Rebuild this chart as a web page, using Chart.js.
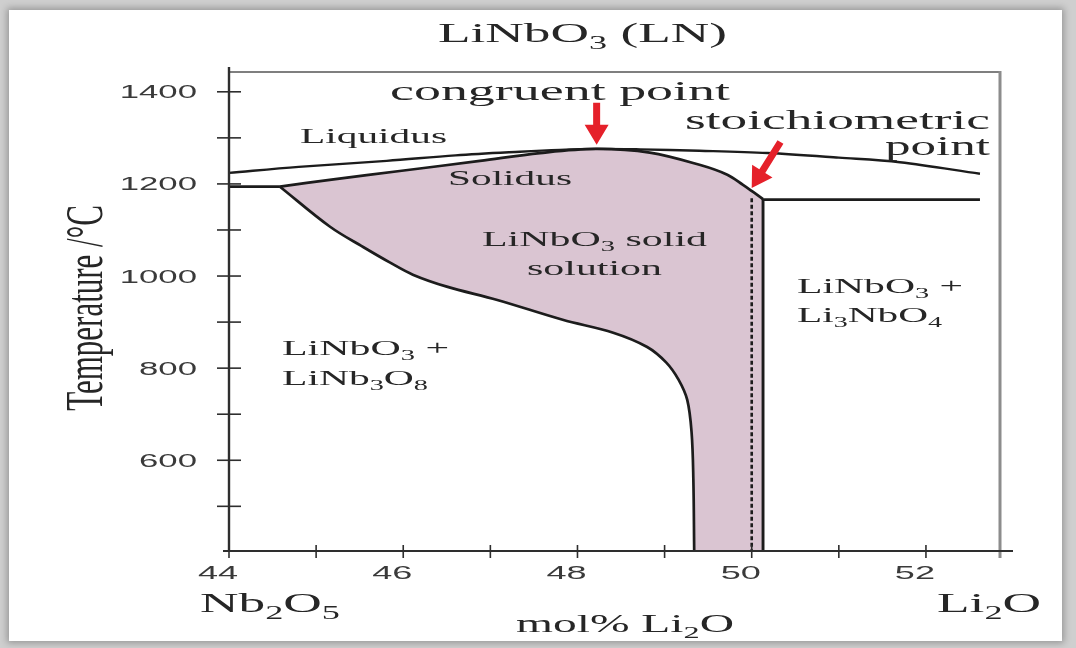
<!DOCTYPE html>
<html><head><meta charset="utf-8">
<script src="https://cdn.jsdelivr.net/npm/chart.js@4.4.1/dist/chart.umd.min.js"></script>
<style>
html,body{margin:0;padding:0;width:1076px;height:648px;overflow:hidden;background:#cfcfcf;}
#card{position:absolute;left:9px;top:10px;width:1053px;height:631px;background:#fff;box-shadow:0 0 7px 2px rgba(0,0,0,0.28);}
#wrap{position:absolute;left:0;top:0;width:1076px;height:648px;}
</style></head>
<body>
<div id="card"></div>
<div id="wrap"><canvas id="c" width="1076" height="648"></canvas></div>
<script>
// ---------- data (mol% Li2O, temperature °C) ----------
const liquidusX = [44.00, 44.80, 45.81, 46.60, 47.34, 47.80, 48.22, 48.72, 49.40, 50.18, 51.00, 51.70, 52.62];
const liquidusT = [1224, 1237, 1250, 1262, 1270, 1274, 1276, 1275, 1272, 1267, 1257, 1247, 1222];

const solidusX = [44.585, 45.20, 45.96, 46.88, 47.57, 48.21, 48.83, 49.41, 49.72, 49.90, 50.02, 50.13];
const solidusT = [1194, 1210, 1228, 1250, 1267, 1276, 1268, 1241, 1220, 1198, 1182, 1167];

const solvusX = [44.585, 45.16, 45.54, 45.85, 46.11, 46.50, 47.08, 47.83, 48.41, 48.80, 49.02, 49.16, 49.26, 49.31, 49.33, 49.34];
const solvusT = [1194, 1107, 1063, 1029, 1003, 977, 948, 905, 877, 846, 812, 775, 731, 660, 560, 400];

const eutecticX = [44.00, 44.585];
const eutecticT = [1194, 1194];
const rightLineX = [50.13, 52.62];
const rightLineT = [1166, 1166];
const stoichBoundX = [50.13, 50.13];
const stoichBoundT = [1167, 400];
const dashedX = [50.00, 50.00];
const dashedT = [1169, 400];

const arrowFromX = [48.22, 50.33];
const arrowFromT = [1376, 1291];
const arrowToX = [48.22, 50.00];
const arrowToT = [1285, 1191];

const xMin = 44, xMax = 52.85, yMin = 403, yMax = 1443;
const xTickLabels = [44, 46, 48, 50, 52];
const xMinorTicks = [45, 47, 49, 51];
const yTickLabels = [600, 800, 1000, 1200, 1400];
const yMinorTicks = [500, 700, 900, 1100, 1300];

// ---------- helpers ----------
const pts = (xs, ys) => xs.map((x, i) => ({x: x, y: ys[i]}));
const SERIF = "'Liberation Serif','Times New Roman',serif";
const SANS = "'Liberation Sans',Arial,sans-serif";

// polygon of the solid-solution field: solidus, down stoichiometric boundary, back up the solvus
const polyX = [], polyT = [];
solidusX.forEach((x, i) => { polyX.push(x); polyT.push(solidusT[i]); });
polyX.push(solidusX[solidusX.length - 1]); polyT.push(solidusT[solidusT.length - 1]);
polyX.push(stoichBoundX[1], stoichBoundX[1]); polyT.push(stoichBoundT[1], stoichBoundT[1]);
polyX.push(solvusX[solvusX.length - 1], solvusX[solvusX.length - 1]); polyT.push(solvusT[solvusT.length - 1], solvusT[solvusT.length - 1]);
for (let i = solvusX.length - 2; i >= 0; i--) { polyX.push(solvusX[i]); polyT.push(solvusT[i]); }

function parseRich(str) {
  const runs = []; let cur = '';
  for (let i = 0; i < str.length; i++) {
    if (str[i] === '_') { if (cur) runs.push({t: cur, sub: false}); cur = ''; runs.push({t: str[i + 1], sub: true}); i++; }
    else cur += str[i];
  }
  if (cur) runs.push({t: cur, sub: false});
  return runs;
}
function drawRich(ctx, str, o) {
  const runs = parseRich(str);
  let w = 0;
  for (const r of runs) { ctx.font = `${r.sub ? o.size * 0.68 : o.size}px ${o.family}`; w += ctx.measureText(r.t).width; }
  let sx = o.sx || 1;
  if (o.width) sx = o.width / w;
  let x0 = o.x;
  if (o.align === 'center') x0 = o.x - w * sx / 2;
  else if (o.align === 'right') x0 = o.x - w * sx;
  ctx.save();
  ctx.translate(x0, o.baseline); ctx.scale(sx, 1);
  ctx.fillStyle = o.color || '#262626'; ctx.textBaseline = 'alphabetic'; ctx.textAlign = 'left';
  let x = 0;
  for (const r of runs) {
    const s = r.sub ? o.size * 0.68 : o.size;
    ctx.font = `${s}px ${o.family}`;
    ctx.fillText(r.t, x, r.sub ? o.size * 0.24 : 0);
    x += ctx.measureText(r.t).width;
  }
  ctx.restore();
}

const decor = {
  id: 'decor',
  afterDatasetsDraw(chart) {
    const ctx = chart.ctx, xs = chart.scales.x, ys = chart.scales.y;
    const L = xs.left, R = xs.right, T = ys.top, B = ys.bottom;
    ctx.save();
    // red arrows
    ctx.fillStyle = '#e5202a';
    for (let i = 0; i < arrowFromX.length; i++) {
      const x1 = xs.getPixelForValue(arrowFromX[i]), y1 = ys.getPixelForValue(arrowFromT[i]);
      const x2 = xs.getPixelForValue(arrowToX[i]), y2 = ys.getPixelForValue(arrowToT[i]);
      const len = Math.hypot(x2 - x1, y2 - y1), ux = (x2 - x1) / len, uy = (y2 - y1) / len;
      const px = -uy, py = ux, head = 20, hw = 12, sw = 3.5;
      const bx = x2 - ux * head, by = y2 - uy * head;
      ctx.beginPath();
      ctx.moveTo(x1 + px * sw, y1 + py * sw);
      ctx.lineTo(bx + px * sw, by + py * sw);
      ctx.lineTo(bx + px * hw, by + py * hw);
      ctx.lineTo(x2, y2);
      ctx.lineTo(bx - px * hw, by - py * hw);
      ctx.lineTo(bx - px * sw, by - py * sw);
      ctx.lineTo(x1 - px * sw, y1 - py * sw);
      ctx.closePath(); ctx.fill();
    }
    // frame
    ctx.strokeStyle = '#555'; ctx.lineWidth = 1.6;
    ctx.beginPath(); ctx.moveTo(L, T); ctx.lineTo(R, T); ctx.stroke();
    ctx.strokeStyle = '#8c8c8c'; ctx.lineWidth = 3;
    ctx.beginPath(); ctx.moveTo(R, T - 1); ctx.lineTo(R, B + 7); ctx.stroke();
    // axes
    ctx.strokeStyle = '#2e2e2e'; ctx.lineWidth = 2.4;
    ctx.beginPath(); ctx.moveTo(L, T - 5); ctx.lineTo(L, B); ctx.stroke();
    ctx.lineWidth = 2;
    ctx.beginPath(); ctx.moveTo(L - 6, B); ctx.lineTo(R + 13, B); ctx.stroke();
    ctx.lineWidth = 1.6;
    [...yTickLabels, ...yMinorTicks].forEach(v => {
      const p = ys.getPixelForValue(v);
      ctx.beginPath(); ctx.moveTo(L - 12, p); ctx.lineTo(L + 12, p); ctx.stroke();
    });
    [...xTickLabels, ...xMinorTicks].forEach(v => {
      const p = xs.getPixelForValue(v);
      ctx.beginPath(); ctx.moveTo(p, B - 6); ctx.lineTo(p, B + 7); ctx.stroke();
    });
    ctx.restore();
  },
  afterDraw(chart) {
    const ctx = chart.ctx, xs = chart.scales.x, ys = chart.scales.y;
    // tick labels
    yTickLabels.forEach(v => drawRich(ctx, String(v), {x: 197, align: 'right', baseline: ys.getPixelForValue(v) + 6.5, size: 18, family: SANS, color: '#3a3a3a', sx: 1.93}));
    xTickLabels.forEach(v => drawRich(ctx, String(v), {x: xs.getPixelForValue(v) - 11, align: 'center', baseline: 579, size: 19, family: SANS, color: '#3a3a3a', sx: 1.9}));
    // titles and labels
    const S = (t, x, y, size, w) => drawRich(ctx, t, {x: x, align: 'left', baseline: y, size: size, family: SERIF, width: w});
    S('LiNbO_3 (LN)', 438, 42, 28, 289);
    S('congruent point', 390, 100, 28, 340);
    S('stoichiometric', 685, 129, 27, 305);
    drawRich(ctx, 'point', {x: 990, align: 'right', baseline: 155, size: 27, family: SERIF, width: 105});
    S('Liquidus', 300, 143, 22, 147);
    S('Solidus', 448, 185, 22, 124);
    S('LiNbO_3 solid', 482, 246, 22, 225);
    S('solution', 527, 275, 22, 135);
    S('LiNbO_3 +', 282, 355, 22, 167);
    S('LiNb_3O_8', 282, 385, 22, 146);
    S('LiNbO_3 +', 797, 293, 22, 166);
    S('Li_3NbO_4', 797, 322, 22, 145);
    S('Nb_2O_5', 200, 612, 28, 140);
    S('Li_2O', 937, 612, 28, 104);
    S('mol% Li_2O', 516, 632, 25, 218);
    // rotated y title
    ctx.save();
    ctx.translate(102, 308); ctx.scale(1.7, 1); ctx.rotate(-Math.PI / 2);
    ctx.font = `31px ${SERIF}`; ctx.fillStyle = '#262626'; ctx.textAlign = 'center'; ctx.textBaseline = 'alphabetic';
    ctx.fillText('Temperature /°C', 0, 0);
    ctx.restore();
  }
};

const lineStyle = {showLine: true, pointRadius: 0, borderColor: '#1c1c1c', borderWidth: 2.7, fill: false};

new Chart(document.getElementById('c'), {
  type: 'scatter',
  data: {
    datasets: [
      Object.assign({label: 'Liquidus', data: pts(liquidusX, liquidusT), tension: 0.35}, lineStyle, {borderWidth: 2.4}),
      Object.assign({label: 'Solidus', data: pts(solidusX, solidusT), tension: 0.35}, lineStyle),
      Object.assign({label: 'Solvus', data: pts(solvusX, solvusT), tension: 0.35}, lineStyle),
      Object.assign({label: 'Eutectic', data: pts(eutecticX, eutecticT)}, lineStyle),
      Object.assign({label: 'Right', data: pts(rightLineX, rightLineT)}, lineStyle),
      Object.assign({label: 'Stoich boundary', data: pts(stoichBoundX, stoichBoundT)}, lineStyle, {borderWidth: 2.9}),
      Object.assign({label: 'Stoichiometric', data: pts(dashedX, dashedT), borderDash: [4, 2.5]}, lineStyle, {borderWidth: 2.6}),
      {label: 'Solid solution', data: pts(polyX, polyT), showLine: true, pointRadius: 0, borderWidth: 0, borderColor: 'rgba(0,0,0,0)', backgroundColor: '#dac5d2', fill: 'shape', tension: 0.35}
    ]
  },
  options: {
    animation: false, responsive: false, devicePixelRatio: 1,
    layout: {padding: {left: 229, right: 76, top: 72, bottom: 97}},
    plugins: {legend: {display: false}, tooltip: {enabled: false}},
    scales: {
      x: {type: 'linear', min: xMin, max: xMax, display: false},
      y: {type: 'linear', min: yMin, max: yMax, display: false}
    }
  },
  plugins: [decor]
});
</script>
</body></html>
